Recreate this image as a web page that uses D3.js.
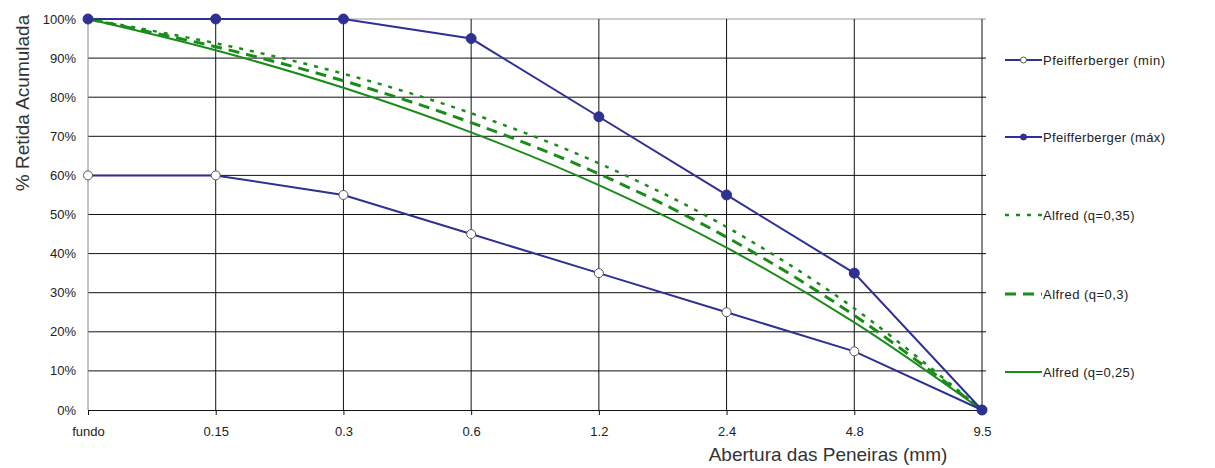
<!DOCTYPE html>
<html>
<head>
<meta charset="utf-8">
<script src="https://cdn.jsdelivr.net/npm/d3@7"></script>
<style>
  body { margin: 0; background: #fff; }
  svg { font-family: "Liberation Sans", Arial, sans-serif; }
</style>
</head>
<body>
<svg id="chart"></svg>
<script>
// Data
const sieves = ['fundo', '0.15', '0.3', '0.6', '1.2', '2.4', '4.8', '9.5'];
const yTicks = [0, 10, 20, 30, 40, 50, 60, 70, 80, 90, 100];
const pfeifMin = [60, 60, 55, 45, 35, 25, 15, 0];
const pfeifMax = [100, 100, 100, 95, 75, 55, 35, 0];
const alfred035 = [100, 93.8, 86.0, 75.9, 63.1, 46.8, 26.0, 0];
const alfred030 = [100, 92.9, 84.2, 73.5, 60.4, 44.2, 24.2, 0];
const alfred025 = [100, 92.0, 82.4, 71.0, 57.5, 41.5, 22.4, 0];

const width = 1215;
const height = 468;
const margin = { left: 88, right: 233, top: 19, bottom: 58 };

const navy = '#2e3192';
const green = '#1a8c1a';

const svg = d3.select('#chart')
  .attr('width', width)
  .attr('height', height);

const x = d3.scalePoint()
  .domain(sieves)
  .range([margin.left, width - margin.right]);

const y = d3.scaleLinear()
  .domain([0, 100])
  .range([height - margin.bottom, margin.top]);

// Horizontal grid
svg.append('g')
  .selectAll('line')
  .data(yTicks.filter(d => d > 0 && d < 100))
  .enter()
  .append('line')
  .attr('x1', margin.left)
  .attr('x2', width - margin.right + 4)
  .attr('y1', d => y(d))
  .attr('y2', d => y(d))
  .attr('stroke', '#111')
  .attr('stroke-width', 1);

// Top border
svg.append('line')
  .attr('x1', margin.left).attr('x2', width - margin.right + 4)
  .attr('y1', y(100)).attr('y2', y(100))
  .attr('stroke', '#999').attr('stroke-width', 1);

// Vertical grid
svg.append('g')
  .selectAll('line')
  .data(sieves.slice(1))
  .enter()
  .append('line')
  .attr('x1', d => x(d))
  .attr('x2', d => x(d))
  .attr('y1', y(100))
  .attr('y2', y(0))
  .attr('stroke', '#111')
  .attr('stroke-width', 1);

// Left axis
svg.append('line')
  .attr('x1', margin.left).attr('x2', margin.left)
  .attr('y1', y(100)).attr('y2', y(0))
  .attr('stroke', '#888').attr('stroke-width', 1);

// Bottom axis
const xAxis = svg.append('g')
  .attr('transform', `translate(0,${y(0)})`)
  .call(d3.axisBottom(x).tickSize(5).tickPadding(12));
xAxis.select('.domain').attr('stroke', '#111');
xAxis.selectAll('.tick line').attr('stroke', '#111');
xAxis.selectAll('text')
  .attr('font-size', '13px')
  .attr('fill', '#222');

// Y labels
svg.append('g')
  .selectAll('text')
  .data(yTicks)
  .enter()
  .append('text')
  .attr('x', margin.left - 12)
  .attr('y', d => y(d))
  .attr('dy', '0.35em')
  .attr('text-anchor', 'end')
  .attr('font-size', '13px')
  .attr('fill', '#222')
  .text(d => d + '%');

// Axis titles
svg.append('text')
  .attr('transform', `translate(29,103) rotate(-90)`)
  .attr('text-anchor', 'middle')
  .attr('font-size', '19px')
  .attr('fill', '#333')
  .text('% Retida Acumulada');

svg.append('text')
  .attr('x', 828)
  .attr('y', 461)
  .attr('text-anchor', 'middle')
  .attr('font-size', '19px')
  .attr('fill', '#333')
  .text('Abertura das Peneiras (mm)');

const series = [
  { name: 'Pfeifferberger (min)', values: pfeifMin, color: navy, width: 2, dash: null, marker: 'open', smooth: false },
  { name: 'Pfeifferberger (máx)', values: pfeifMax, color: navy, width: 2, dash: null, marker: 'filled', smooth: false },
  { name: 'Alfred (q=0,35)', values: alfred035, color: green, width: 2.5, dash: '4,7', marker: null, smooth: true },
  { name: 'Alfred (q=0,3)', values: alfred030, color: green, width: 3, dash: '11,7', marker: null, smooth: true },
  { name: 'Alfred (q=0,25)', values: alfred025, color: green, width: 2, dash: null, marker: null, smooth: true }
];

const lineStraight = d3.line()
  .x((d, i) => x(sieves[i]))
  .y(d => y(d));

const lineSmooth = d3.line()
  .x((d, i) => x(sieves[i]))
  .y(d => y(d))
  .curve(d3.curveCardinal.tension(0));

// Draw green first, then navy on top
const drawOrder = [2, 3, 4, 0, 1];
drawOrder.forEach(k => {
  const s = series[k];
  svg.append('path')
    .datum(s.values)
    .attr('fill', 'none')
    .attr('stroke', s.color)
    .attr('stroke-width', s.width)
    .attr('stroke-dasharray', s.dash)
    .attr('d', s.smooth ? lineSmooth : lineStraight);
  if (s.marker) {
    svg.append('g')
      .selectAll('circle')
      .data(s.values)
      .enter()
      .append('circle')
      .attr('cx', (d, i) => x(sieves[i]))
      .attr('cy', d => y(d))
      .attr('r', s.marker === 'open' ? 4.5 : 5)
      .attr('fill', s.marker === 'open' ? '#fff' : s.color)
      .attr('stroke', s.marker === 'open' ? '#555' : s.color)
      .attr('stroke-width', 1);
  }
});

// Legend
const legendY = [60, 137, 215, 294, 372];
const legend = svg.append('g')
  .selectAll('g')
  .data(series)
  .enter()
  .append('g')
  .attr('transform', (d, i) => `translate(1005,${legendY[i]})`);

legend.append('line')
  .attr('x1', 0)
  .attr('x2', 37)
  .attr('y1', 0)
  .attr('y2', 0)
  .attr('stroke', d => d.color)
  .attr('stroke-width', d => d.width)
  .attr('stroke-dasharray', d => d.dash);

legend.filter(d => d.marker)
  .append('circle')
  .attr('cx', 18.5)
  .attr('cy', 0)
  .attr('r', 3)
  .attr('fill', d => d.marker === 'open' ? '#fff' : d.color)
  .attr('stroke', d => d.marker === 'open' ? '#555' : d.color)
  .attr('stroke-width', 1);

legend.append('text')
  .attr('x', 38)
  .attr('y', 0)
  .attr('dy', '0.35em')
  .attr('font-size', '13px')
  .attr('fill', '#222')
  .attr('textLength', d => d.name.length * 6.1)
  .text(d => d.name);
</script>
</body>
</html>
